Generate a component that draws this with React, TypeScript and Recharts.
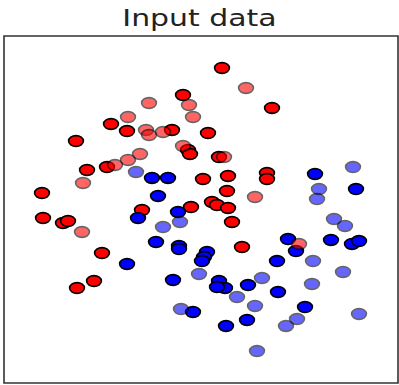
import { ReferenceArea, Scatter, ScatterChart, XAxis, YAxis } from "recharts";

// points, x to the right and y upward (plot units)
const trainRed = [
  [218, 315], [268, 275], [179, 288], [107, 259], [123, 252], [168, 253], [204, 250], [72, 242],
  [184, 233], [186, 229], [215, 226], [103, 216], [83, 213], [199, 204], [224, 207], [263, 210],
  [263, 204], [38, 190], [223, 192], [208, 181], [213, 178], [224, 175], [187, 176], [138, 173],
  [228, 161], [39, 165], [59, 160], [64, 162], [98, 130], [238, 136], [90, 102], [73, 95]
];
const testRed = [
  [242, 295], [185, 278], [145, 280], [189, 266], [124, 266], [142, 253], [145, 248], [159, 251],
  [179, 237], [136, 229], [124, 223], [111, 218], [79, 200], [220, 226], [251, 186], [295, 139],
  [78, 151]
];
const trainBlue = [
  [311, 209], [352, 194], [148, 205], [164, 205], [154, 187], [174, 171], [134, 165], [152, 141],
  [175, 137], [175, 134], [123, 119], [169, 103], [189, 71], [203, 131], [200, 126], [198, 122],
  [284, 144], [292, 132], [327, 143], [348, 139], [355, 142], [273, 122], [215, 102], [221, 95],
  [213, 96], [244, 98], [274, 91], [301, 76], [243, 63], [222, 57]
];
const testBlue = [
  [349, 216], [315, 194], [313, 184], [132, 211], [176, 161], [159, 156], [330, 164], [341, 157],
  [309, 122], [339, 111], [195, 109], [258, 105], [308, 99], [233, 86], [251, 77], [177, 74],
  [355, 69], [293, 64], [282, 57], [253, 32]
];

const xDomain = [0, 394];
const yDomain = [0, 347];

const toRows = (pts: number[][]) => pts.map(([x, y]) => ({ x, y }));

function dot(color: string, alpha: number) {
  return (props: any) => (
    <ellipse
      cx={props.cx}
      cy={props.cy}
      rx={7.4}
      ry={5.4}
      fill={color}
      stroke="#000"
      strokeWidth={1.6}
      opacity={alpha}
    />
  );
}

export default function App() {
  return (
    <div style={{ position: "absolute", left: 0, top: 0, width: 399, height: 385, background: "#fff" }}>
      <div
        style={{
          position: "absolute",
          left: 0,
          top: 7,
          width: 399,
          textAlign: "center",
          fontFamily: "'DejaVu Sans'",
          fontSize: 23,
          lineHeight: 1,
          color: "#222",
          transform: "scaleX(1.3)"
        }}
      >
        Input data
      </div>
      <ScatterChart width={399} height={385} margin={{ top: 36, right: 1, bottom: 2, left: 4 }}>
        <XAxis type="number" dataKey="x" domain={xDomain} hide />
        <YAxis type="number" dataKey="y" domain={yDomain} hide />
        <ReferenceArea
          x1={xDomain[0]}
          x2={xDomain[1]}
          y1={yDomain[0]}
          y2={yDomain[1]}
          fill="none"
          stroke="#333"
          strokeWidth={1.6}
          fillOpacity={0}
          ifOverflow="visible"
        />
        <Scatter data={toRows(trainRed)} shape={dot("#ff0000", 1)} isAnimationActive={false} />
        <Scatter data={toRows(trainBlue)} shape={dot("#0000ff", 1)} isAnimationActive={false} />
        <Scatter data={toRows(testRed)} shape={dot("#ff0000", 0.6)} isAnimationActive={false} />
        <Scatter data={toRows(testBlue)} shape={dot("#0000ff", 0.6)} isAnimationActive={false} />
      </ScatterChart>
    </div>
  );
}
